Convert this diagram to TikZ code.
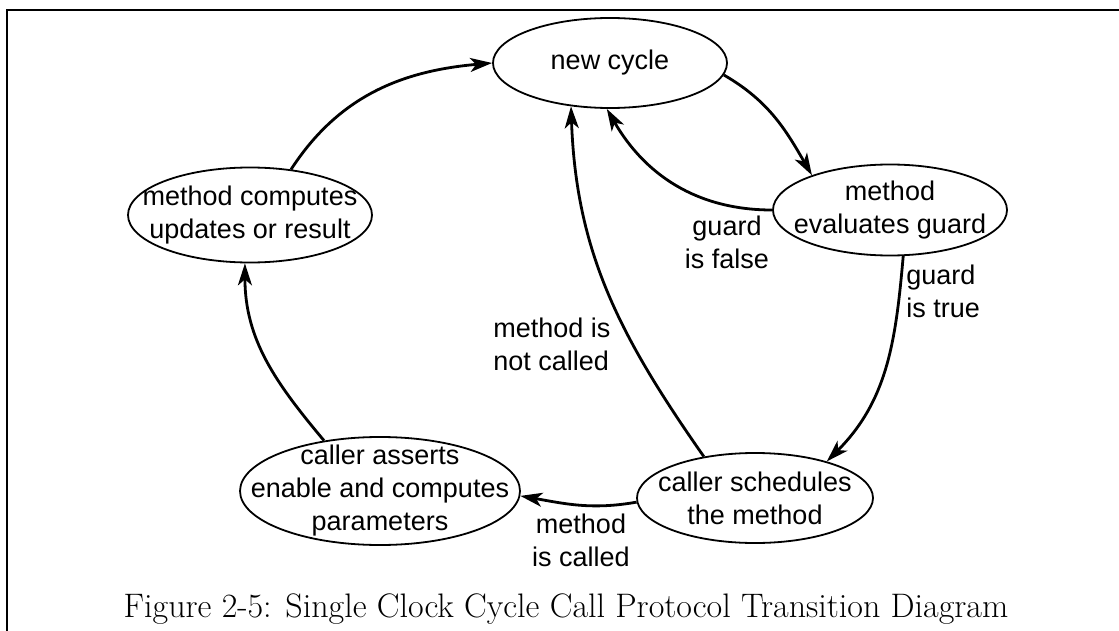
\documentclass[tikz,border=0pt]{standalone}
\usepackage{fontspec}
\newfontfamily\arialfont{Liberation Sans}
\usetikzlibrary{shapes.geometric,arrows.meta}
\begin{document}
\begin{tikzpicture}[x=0.5pt,y=-0.5pt,
state/.style={ellipse, draw, line width=0.9pt, inner sep=0pt},
txt/.style={font=\arialfont\fontsize{13.5}{16.5}\selectfont, align=center, inner sep=0pt},
arr/.style={-{Stealth[length=11pt,width=7pt,inset=3pt]}, line width=1.4pt}]
\useasboundingbox (0,0) rectangle (1119,631);
\draw[line width=0.7pt] (1119,10) -- (7,10) -- (7,631);
\node[state, minimum width=117pt, minimum height=45pt, label={[txt]center:new cycle}] (cyc) at (610,63){};
\node[state, minimum width=117pt, minimum height=45.5pt, label={[txt]center:method\\evaluates guard}] (eval) at (890,210){};
\node[state, minimum width=122pt, minimum height=47.5pt, label={[txt]center:method computes\\updates or result}] (comp) at (250,215){};
\node[state, minimum width=140pt, minimum height=54pt, label={[txt]center:caller asserts\\enable and computes\\parameters}] (asrt) at (380,491){};
\node[state, minimum width=118pt, minimum height=45pt, label={[txt]center:caller schedules\\the method}] (sched) at (755,498){};
\node[txt] (lfalse) at (727,242){guard\\is false};
\node[txt, align=left, anchor=west] (ltrue) at (906,291){guard\\is true};
\node[txt, align=left, anchor=west] (lnot) at (493,344){method is\\not called};
\node[txt] (lcalled) at (581,540){method\\is called};
\node[font=\fontsize{17}{20}\selectfont, anchor=base] (cap) at (566,617){Figure 2-5: Single Clock Cycle Call Protocol Transition Diagram};
\draw[arr] (comp.48) to[out=57,in=185] (cyc.180);
\draw[arr] (cyc.-6) to[out=-30,in=120] (eval.156);
\draw[arr] (eval.180) to[out=180,in=-60] (cyc.-94);
\draw[arr] (eval.-74) to[out=-95,in=45] (sched.27);
\draw[arr] (sched.141) to[out=125,in=-88] (cyc.-132);
\draw[arr] (sched.182) to[out=190,in=-10] (asrt.-2);
\draw[arr] (asrt.138) to[out=130,in=-90] (comp.-96);

\end{tikzpicture}
\end{document}
